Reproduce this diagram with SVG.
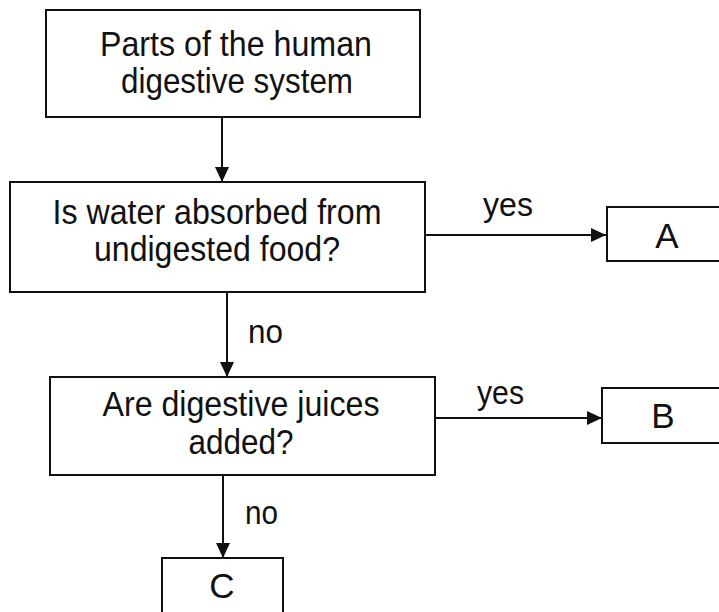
<svg xmlns="http://www.w3.org/2000/svg" width="719" height="612" viewBox="0 0 719 612">
<defs>
<style>
.box{fill:#fff;stroke:#111;stroke-width:2}
.t{font-family:"Liberation Sans",Arial,sans-serif;font-size:35px;fill:#111;text-anchor:middle}
.lbl{font-family:"Liberation Sans",Arial,sans-serif;font-size:34px;fill:#111}
.c{stroke:#111;stroke-width:2;fill:none}
</style>
<marker id="ah" markerUnits="userSpaceOnUse" markerWidth="16" markerHeight="14" refX="15" refY="7" orient="auto">
<path d="M0,0 L15,7 L0,14 Z" fill="#111"/>
</marker>
</defs>
<rect width="719" height="612" fill="#fff"/>
<g id="connectors">
<line class="c" x1="222" y1="117" x2="222" y2="182" marker-end="url(#ah)"/>
<line class="c" x1="425" y1="235" x2="606" y2="235" marker-end="url(#ah)"/>
<line class="c" x1="227" y1="292" x2="227" y2="377" marker-end="url(#ah)"/>
<line class="c" x1="435" y1="418" x2="602" y2="418" marker-end="url(#ah)"/>
<line class="c" x1="223" y1="475" x2="223" y2="558" marker-end="url(#ah)"/>
<text class="lbl" x="483" y="216" textLength="50" lengthAdjust="spacingAndGlyphs">yes</text>
<text class="lbl" x="248" y="343" textLength="35" lengthAdjust="spacingAndGlyphs">no</text>
<text class="lbl" x="477" y="404" textLength="47" lengthAdjust="spacingAndGlyphs">yes</text>
<text class="lbl" x="245" y="524" textLength="33" lengthAdjust="spacingAndGlyphs">no</text>
</g>
<g id="start">
<rect class="box" x="46" y="10" width="374" height="107"/>
<text class="t" x="236" y="56" textLength="272" lengthAdjust="spacingAndGlyphs">Parts of the human</text>
<text class="t" x="237" y="93" textLength="232" lengthAdjust="spacingAndGlyphs">digestive system</text>
</g>
<g id="q1">
<rect class="box" x="10" y="182" width="415" height="110"/>
<text class="t" x="217" y="224" textLength="329" lengthAdjust="spacingAndGlyphs">Is water absorbed from</text>
<text class="t" x="217" y="261" textLength="246" lengthAdjust="spacingAndGlyphs">undigested food?</text>
</g>
<g id="A">
<rect class="box" x="607" y="207" width="130" height="54"/>
<text class="t" x="667" y="248">A</text>
</g>
<g id="q2">
<rect class="box" x="50" y="377" width="385" height="98"/>
<text class="t" x="241" y="416" textLength="277" lengthAdjust="spacingAndGlyphs">Are digestive juices</text>
<text class="t" x="241" y="454" textLength="105" lengthAdjust="spacingAndGlyphs">added?</text>
</g>
<g id="B">
<rect class="box" x="602" y="388" width="130" height="55"/>
<text class="t" x="663" y="428">B</text>
</g>
<g id="C">
<rect class="box" x="162" y="558" width="121" height="70"/>
<text class="t" x="222" y="598">C</text>
</g>
</svg>
